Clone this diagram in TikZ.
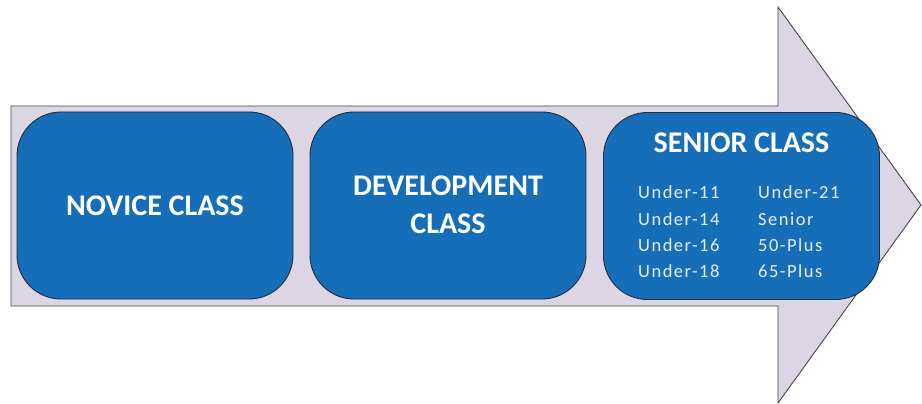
\documentclass[tikz,border=0pt]{standalone}
\usepackage{fontspec}
\setmainfont{Carlito}
\newfontfamily\spacedfont[LetterSpace=8]{Carlito}
\definecolor{boxblue}{RGB}{23,110,184}
\definecolor{arrowfill}{RGB}{220,214,228}
\definecolor{arrowline}{RGB}{70,70,70}
\definecolor{boxline}{RGB}{30,45,70}
\definecolor{itemtext}{RGB}{232,238,248}
\tikzset{
  classbox/.style={draw=boxline, line width=0.9pt, fill=boxblue, rounded corners=44pt,
    minimum width=276pt, minimum height=187pt, inner sep=0pt},
  titletext/.style={text=white, font=\bfseries\fontsize{30}{38}\selectfont, align=center},
  itemlabel/.style={text=itemtext, font=\spacedfont\fontsize{18.5}{20}\selectfont, anchor=west, inner sep=0pt}
}
\begin{document}
\begin{tikzpicture}[x=1pt,y=-1pt]
\useasboundingbox (0,0) rectangle (922,404);
\draw[draw=arrowline, line width=0.9pt, fill=arrowfill, line join=miter]
  (11,106) -- (778,106) -- (778,7) -- (921,205) -- (778,403) -- (778,306) -- (11,306) -- cycle;
\node[classbox] (novice) at (155,205.5) {};
\node[classbox] (devel) at (448,205.5) {};
\node[classbox] (senior) at (741.5,206) {};
\node[titletext] (novicet) at (novice.center) {NOVICE CLASS};
\node[titletext] (develt) at (448,205) {DEVELOPMENT\\CLASS};
\node[titletext] (seniort) at (741.5,143) {SENIOR CLASS};
\node[itemlabel] (u11) at (638,192) {Under-11};
\node[itemlabel] (u14) at (638,219) {Under-14};
\node[itemlabel] (u16) at (638,245) {Under-16};
\node[itemlabel] (u18) at (638,271) {Under-18};
\node[itemlabel] (u21) at (758,192) {Under-21};
\node[itemlabel] (sen) at (758,219) {Senior};
\node[itemlabel] (p50) at (758,245) {50-Plus};
\node[itemlabel] (p65) at (758,271) {65-Plus};
\end{tikzpicture}
\end{document}
